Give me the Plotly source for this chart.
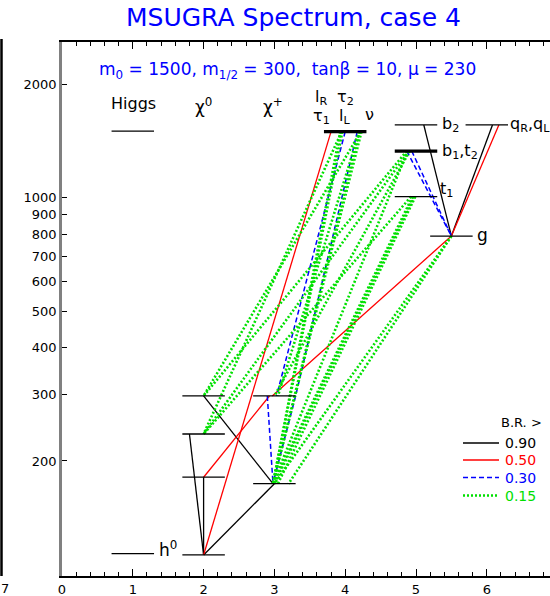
import plotly.graph_objects as go

# ---------------- data ----------------
col_names = ["higgs", "chi0", "chipm", "slep", "sq", "gl", "q"]
col_x = [1.0, 2.0, 3.0, 4.0, 5.0, 5.5, 6.0]

level_names = ["h0", "H", "chi01", "chi02", "chi03", "chi04", "chi1p", "chi2p",
               "slep", "b2", "b1t2", "t1", "gl", "q"]
level_cols = ["higgs", "higgs", "chi0", "chi0", "chi0", "chi0", "chipm", "chipm",
              "slep", "sq", "sq", "sq", "gl", "q"]
level_masses = [113.5, 1503, 112.6, 181.1, 235.9, 297.6, 174.1, 297.6,
                1497, 1560, 1330, 1006, 791, 1560]
level_thick = [False, False, False, False, False, False, False, False,
               True, False, True, False, False, False]

# decays: parent, attach offset on parent, daughter, attach offset on daughter, BR class
decay_parent = ["chi04", "chi03", "chi02", "chi1p", "b2", "q",
                "slep", "chi2p", "gl", "q",
                "slep", "slep", "chi2p", "chi2p", "b1t2", "b1t2",
                "slep", "slep", "slep", "slep", "slep", "slep", "slep",
                "b1t2", "b1t2", "b1t2", "b1t2",
                "t1", "t1", "t1", "t1", "gl", "gl"]
decay_poff = [0.0, -0.2, 0.0, 0.0, 0.11, 0.08,
              -0.2, -0.07, 0.0, 0.17,
              0.0, 0.17, -0.1, 0.3, -0.13, -0.06,
              -0.07, -0.04, 0.2, 0.23, 0.22, 0.2, -0.05,
              -0.13, -0.1, -0.12, -0.09,
              -0.05, -0.03, -0.01, -0.07, 0.0, 0.0]
decay_child = ["chi1p", "chi01", "chi01", "chi01", "gl", "gl",
               "chi01", "chi02", "chi2p", "gl",
               "chi2p", "chi2p", "chi1p", "chi1p", "gl", "gl",
               "chi1p", "chi1p", "chi1p", "chi1p", "chi04", "chi2p", "chi03",
               "chi04", "chi03", "chi1p", "chi2p",
               "chi1p", "chi1p", "chi1p", "chi03", "chi1p", "chi1p"]
decay_coff = [-0.02, 0.0, 0.0, 0.0, 0.0, 0.0,
              0.0, 0.0, -0.03, 0.0,
              0.03, 0.3, -0.02, -0.02, 0.0, 0.0,
              -0.02, -0.02, -0.02, -0.02, 0.0, 0.05, 0.0,
              0.0, 0.0, -0.02, 0.0,
              -0.02, 0.0, 0.05, 0.0, 0.0, 0.2]
decay_br = [0.9, 0.9, 0.9, 0.9, 0.9, 0.9,
            0.5, 0.5, 0.5, 0.5,
            0.3, 0.3, 0.3, 0.3, 0.3, 0.3,
            0.15, 0.15, 0.15, 0.15, 0.15, 0.15, 0.15,
            0.15, 0.15, 0.15, 0.15,
            0.15, 0.15, 0.15, 0.15, 0.15, 0.15]

br_classes = [0.9, 0.5, 0.3, 0.15]
br_labels = ["0.90", "0.50", "0.30", "0.15"]
br_colors = ["#000000", "#ff0000", "#0000ff", "#00e000"]
br_dash = ["solid", "solid", "5px,3px", "2px,2px"]
br_width = [1.3, 1.3, 1.5, 2.6]

x_ticks = [0, 1, 2, 3, 4, 5, 6]
y_ticks = [200, 300, 400, 500, 600, 700, 800, 900, 1000, 2000]

# ---------------- figure ----------------
fig = go.Figure()
cx = dict(zip(col_names, col_x))
lev = {n: (cx[c], m) for n, c, m in zip(level_names, level_cols, level_masses)}

# decay lines (drawn first so level bars are on top)
for cls, col, dash, w in zip(br_classes, br_colors, br_dash, br_width):
    xs, ys = [], []
    for p, po, d, do, b in zip(decay_parent, decay_poff, decay_child, decay_coff, decay_br):
        if b != cls:
            continue
        xs += [lev[p][0] + po, lev[d][0] + do, None]
        ys += [lev[p][1], lev[d][1], None]
    fig.add_trace(go.Scatter(x=xs, y=ys, mode="lines",
                             line=dict(color=col, width=w, dash=dash),
                             hoverinfo="skip", showlegend=False))

# mass level bars
for thick in (False, True):
    xs, ys = [], []
    for n, c, m, t in zip(level_names, level_cols, level_masses, level_thick):
        if t != thick:
            continue
        xs += [cx[c] - 0.3, cx[c] + 0.3, None]
        ys += [m, m, None]
    fig.add_trace(go.Scatter(x=xs, y=ys, mode="lines",
                             line=dict(color="black", width=3.2 if thick else 1.3),
                             hoverinfo="skip", showlegend=False))

# plot geometry in pixels (for paper-coordinate helpers)
L, T, B, W, H = 62, 42, 20, 550, 596
PW, PH = W - L, H - T - B

def px(x):
    return (x - L) / PW

def py(y):
    return (H - B - y) / PH

FONT = "DejaVu Sans"
ann = []

def label(text, x, y, size=16, color="black", xanchor="center"):
    ann.append(dict(text=text, x=px(x), y=py(y), xref="paper", yref="paper",
                    showarrow=False, xanchor=xanchor, yanchor="middle",
                    font=dict(family=FONT, size=size, color=color)))

label("MSUGRA Spectrum, case 4", 293, 17, size=25, color="#0000ff")
label("m<sub>0</sub> = 1500, m<sub>1/2</sub> = 300,  tanβ = 10, μ = 230", 287, 70, size=17, color="#0000ff")
label("Higgs", 133, 104, size=16)
label("χ<sup>0</sup>", 203, 106, size=17)
label("χ<sup>+</sup>", 273, 106, size=17)
label("l<sub>R</sub>", 321, 97, size=16)
label("τ<sub>2</sub>", 345, 97, size=16)
label("τ<sub>1</sub>", 321, 116, size=16)
label("l<sub>L</sub>", 344, 116, size=16)
label("ν", 369, 114, size=16)
label("h<sup>0</sup>", 157, 549, size=17, xanchor="left")
label("b<sub>2</sub>", 440, 124, size=16, xanchor="left")
label("b<sub>1</sub>,t<sub>2</sub>", 440, 151, size=16, xanchor="left")
label("t<sub>1</sub>", 438, 189, size=16, xanchor="left")
label("g", 475, 235, size=17, xanchor="left")
label("q<sub>R</sub>,q<sub>L</sub>", 508, 124, size=16, xanchor="left")
label("B.R. >", 544, 422, size=13, xanchor="right")
label("7", -1, 588, size=13, xanchor="left")

shapes = []
leg_y = [443, 460, 477.5, 495.5]
for lbl, col, dash, w, yy in zip(br_labels, br_colors, br_dash, br_width, leg_y):
    shapes.append(dict(type="line", xref="paper", yref="paper",
                       x0=px(463), x1=px(499), y0=py(yy), y1=py(yy),
                       line=dict(color=col, width=w, dash=dash)))
    label(lbl, 503, yy, size=14, color=col, xanchor="left")

# stray left frame from neighbouring panel
shapes.append(dict(type="line", xref="paper", yref="paper",
                   x0=px(1.5), x1=px(1.5), y0=py(576), y1=py(39),
                   line=dict(color="black", width=2.5)))

fig.update_layout(
    width=W, height=H,
    margin=dict(l=L, r=0, t=T, b=B, pad=0),
    paper_bgcolor="white", plot_bgcolor="white",
    showlegend=False,
    annotations=ann, shapes=shapes,
    xaxis=dict(range=[0, PW / 70.8], tickvals=x_ticks, ticktext=[str(v) for v in x_ticks],
               ticks="inside", ticklen=7, tickwidth=1.3, tickcolor="black",
               minor=dict(dtick=0.2, ticks="inside", ticklen=4, tickwidth=1, tickcolor="black"),
               showline=True, linecolor="black", linewidth=2.2, mirror="ticks",
               showgrid=False, zeroline=False,
               tickfont=dict(family=FONT, size=13, color="black")),
    yaxis=dict(type="log", range=[1.9957, 3.4133], tickvals=y_ticks,
               ticktext=[str(v) for v in y_ticks],
               ticks="inside", ticklen=5, tickwidth=1.3, tickcolor="black",
               showline=True, linecolor="#808080", linewidth=2.5, mirror=False,
               showgrid=False, zeroline=False,
               tickfont=dict(family=FONT, size=13, color="black")),
)

fig.write_html("out.html")
